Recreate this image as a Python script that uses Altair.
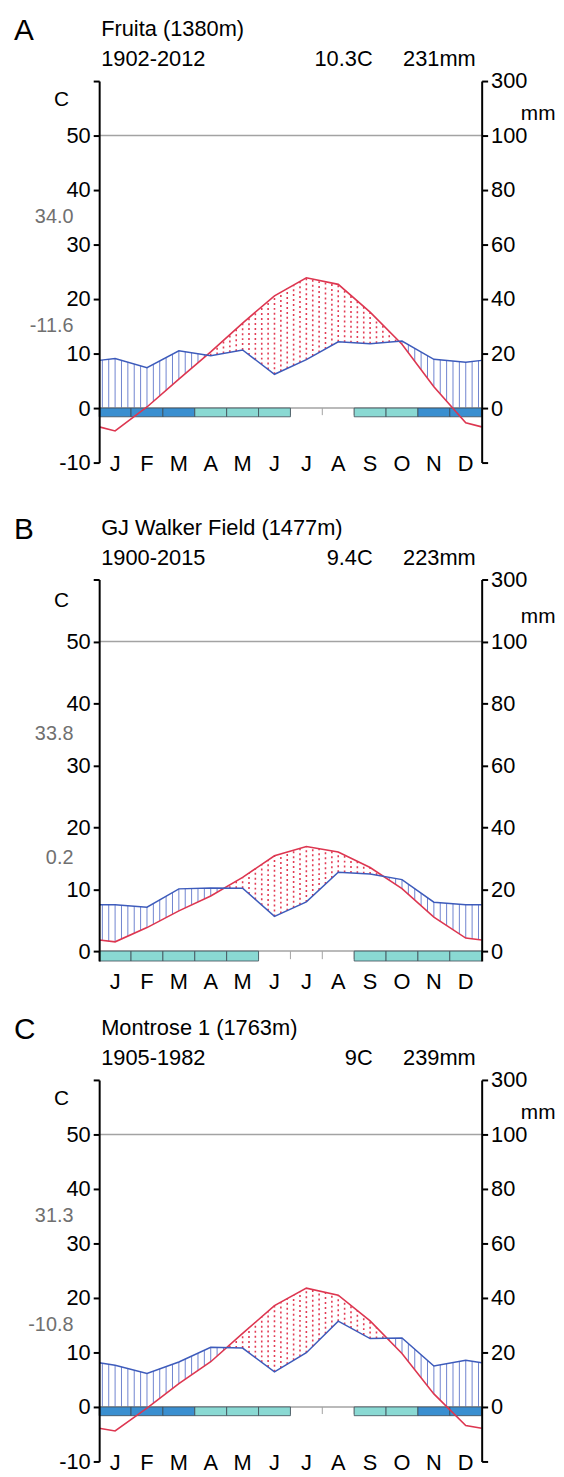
import altair as alt
import numpy as np
import pandas as pd

MONTHS = ["J", "F", "M", "A", "M", "J", "J", "A", "S", "O", "N", "D"]

# Panel A - Fruita
A_LETTER = "A"
A_STATION = "Fruita (1380m)"
A_YEARS = "1902-2012"
A_TMEAN = "10.3C"
A_PTOT = "231mm"
A_TMAX = "34.0"
A_TMIN = "-11.6"
A_TEMP = [-4.2, 0.2, 5.3, 10.3, 15.6, 20.6, 23.9, 22.7, 17.6, 11.7, 3.9, -2.7]
A_PREC = [18.2, 14.8, 21.0, 19.2, 21.3, 12.4, 17.8, 24.3, 23.6, 24.6, 17.9, 16.8]
A_FROST = ["prob", "prob", "prob", "poss", "poss", "poss", "none", "none", "poss", "poss", "prob", "prob"]

# Panel B - GJ Walker Field
B_LETTER = "B"
B_STATION = "GJ Walker Field (1477m)"
B_YEARS = "1900-2015"
B_TMEAN = "9.4C"
B_PTOT = "223mm"
B_TMAX = "33.8"
B_TMIN = "0.2"
B_TEMP = [1.5, 3.8, 6.5, 8.9, 11.9, 15.4, 16.9, 16.0, 13.5, 10.1, 5.5, 2.1]
B_PREC = [15.0, 14.2, 20.1, 20.4, 20.3, 11.2, 15.9, 25.5, 24.9, 23.1, 15.8, 15.0]
B_FROST = ["poss", "poss", "poss", "poss", "poss", "none", "none", "none", "poss", "poss", "poss", "poss"]

# Panel C - Montrose 1
C_LETTER = "C"
C_STATION = "Montrose 1 (1763m)"
C_YEARS = "1905-1982"
C_TMEAN = "9C"
C_PTOT = "239mm"
C_TMAX = "31.3"
C_TMIN = "-10.8"
C_TEMP = [-4.4, -0.2, 4.3, 8.3, 13.5, 18.6, 21.8, 20.5, 15.8, 9.8, 2.4, -3.4]
C_PREC = [15.3, 12.3, 16.5, 21.9, 21.6, 12.9, 19.9, 31.5, 25.1, 25.3, 15.0, 17.1]
C_FROST = ["prob", "prob", "prob", "poss", "poss", "poss", "none", "none", "poss", "poss", "prob", "prob"]

FONT = "Liberation Sans"
RED = "#dd3650"
RED_DOT = "#e23c55"
BLUE = "#3d5bbb"
BLUE_HATCH = "#6f84cf"
FROST_PROB = "#3a8fd0"
FROST_POSS = "#8ad9d3"
GRAY_LINE = "#a3a3a3"
GRAY_TXT = "#707070"

W = 386          # plot width
PH = 385         # height of the diagram itself
TOP = 67         # space above the diagram inside each panel
BAR = -1.6       # depth of the frost bar (degC units)


def panel(letter, station, years, tmean, ptot, tmax, tmin, temps, precs, frost,
          ymin, lab_off, panel_h):
    t = np.array(temps, dtype=float)
    p = np.array(precs, dtype=float)
    t_edge = (t[0] + t[-1]) / 2.0
    p_edge = (p[0] + p[-1]) / 2.0
    xs = np.concatenate([[0.0], np.arange(12) + 0.5, [12.0]])
    tl = np.concatenate([[t_edge], t, [t_edge]])
    pl = np.concatenate([[p_edge], p, [p_edge]])
    lines = pd.DataFrame({"x": xs, "t": tl, "p": pl})

    hx = np.arange(60) * 0.2 + 0.1
    ht = np.interp(hx, xs, tl)
    hp = np.interp(hx, xs, pl / 2.0)
    humid = hp > ht
    hum = pd.DataFrame({"x": hx[humid], "lo": np.maximum(ht[humid], 0), "hi": hp[humid]})
    ari = pd.DataFrame({"x": hx[~humid], "lo": hp[~humid], "hi": ht[~humid]})

    bottom = TOP + PH
    xsc = alt.Scale(domain=[0, 12], nice=False, zero=False)
    ysc = alt.Scale(domain=[ymin, 60], range=[bottom, TOP], nice=False, zero=False)
    lo_tick = -10 if ymin <= -10 else 0
    axis_style = dict(title=None, domainColor="black", domainWidth=2,
                      tickColor="black", tickWidth=2, tickSize=6, labelFontSize=22,
                      labelPadding=3, labelColor="black", labelFont=FONT, grid=False, zindex=1)
    laxis = alt.Axis(values=list(range(lo_tick, 61, 10)),
                     labelExpr="datum.value >= 60 ? '' : '' + datum.value",
                     orient="left", **axis_style)
    rvals = ([-20] if ymin <= -10 else []) + [0, 20, 40, 60, 80, 100, 120]
    raxis = alt.Axis(values=rvals,
                     labelExpr="datum.value >= 120 ? '300' : (datum.value < 0 ? '' : '' + datum.value)",
                     orient="right", **axis_style)

    def X(f):
        return alt.X(f, type="quantitative", scale=xsc, axis=None)

    def Y(f):
        return alt.Y(f, type="quantitative", scale=ysc, axis=laxis)

    hum_l = alt.Chart(hum).mark_rule(color=BLUE_HATCH, strokeWidth=1).encode(
        x=X("x"), y=Y("lo"), y2=alt.Y2("hi"))
    ari_l = alt.Chart(ari).mark_rule(color=RED_DOT, strokeWidth=1.6, strokeDash=[2, 3]).encode(
        x=X("x"), y=Y("lo"), y2=alt.Y2("hi"))

    hlines = pd.DataFrame({"x": [0, 0], "x2": [12, 12], "y": [50, 0]})
    hl = alt.Chart(hlines).mark_rule(color=GRAY_LINE, strokeWidth=1.5).encode(
        x=X("x"), x2=alt.X2("x2"), y=Y("y"))

    bnd = pd.DataFrame({"x": list(range(1, 12)), "y": [0] * 11, "y2": [-1.3] * 11})
    bl = alt.Chart(bnd).mark_rule(color=GRAY_LINE, strokeWidth=1).encode(
        x=X("x"), y=Y("y"), y2=alt.Y2("y2"))

    fr = pd.DataFrame({"x": np.arange(12), "x2": np.arange(12) + 1,
                       "y": [0.0] * 12, "y2": [BAR] * 12, "kind": frost})
    fr = fr[fr["kind"] != "none"]
    frl = alt.Chart(fr).mark_rect(stroke="#3e4b55", strokeWidth=0.8).encode(
        x=X("x"), x2=alt.X2("x2"), y=Y("y"), y2=alt.Y2("y2"),
        color=alt.Color("kind:N", scale=alt.Scale(domain=["prob", "poss"],
                                                   range=[FROST_PROB, FROST_POSS]), legend=None))

    tline = alt.Chart(lines).mark_line(color=RED, strokeWidth=1.6).encode(x=X("x"), y=Y("t"))

    glab = pd.DataFrame({"y": [35, 15], "txt": [tmax, tmin]})
    gl = alt.Chart(glab).mark_text(align="right", baseline="middle", fontSize=20,
                                   color=GRAY_TXT, font=FONT).encode(
        x=alt.value(-26), y=Y("y"), text="txt:N")

    clab = pd.DataFrame({"y": [56.5, 54.0], "txt": ["C", "mm"], "px": [-38, 443]})
    cl = alt.Chart(clab).mark_text(align="center", baseline="middle", fontSize=21,
                                   color="black", font=FONT).encode(
        x=alt.X("px:Q", scale=None), y=Y("y"), text="txt:N")

    mdf = pd.DataFrame({"x": np.arange(12) + 0.5, "m": MONTHS})
    ml = alt.Chart(mdf).mark_text(baseline="middle", fontSize=22, color="black", font=FONT).encode(
        x=X("x"), y=alt.value(bottom + lab_off), text="m:N")

    info = pd.DataFrame({"letter": [letter], "station": [station], "years": [years],
                         "tmean": [tmean], "ptot": [ptot]})
    base = alt.Chart(info)
    let_l = base.mark_text(align="left", baseline="alphabetic", fontSize=30, font=FONT,
                           color="black").encode(x=alt.value(-86), y=alt.value(TOP - 41), text="letter:N")
    st_l = base.mark_text(align="left", baseline="alphabetic", fontSize=22, font=FONT,
                          color="black").encode(x=alt.value(2), y=alt.value(TOP - 45), text="station:N")
    yr_l = base.mark_text(align="left", baseline="alphabetic", fontSize=22, font=FONT,
                          color="black").encode(x=alt.value(2), y=alt.value(TOP - 15), text="years:N")
    tm_l = base.mark_text(align="right", baseline="alphabetic", fontSize=22, font=FONT,
                          color="black").encode(x=alt.value(276), y=alt.value(TOP - 15), text="tmean:N")
    pt_l = base.mark_text(align="right", baseline="alphabetic", fontSize=22, font=FONT,
                          color="black").encode(x=alt.value(380), y=alt.value(TOP - 15), text="ptot:N")

    # invisible anchor that fixes the left edge of every panel
    anchor = base.mark_rule(strokeOpacity=0, stroke="white", strokeWidth=1).encode(
        x=alt.value(-92), x2=alt.value(-91), y=alt.value(TOP + 100))

    temp_layer = alt.layer(hum_l, ari_l, hl, bl, frl, tline, gl, cl, ml,
                           let_l, st_l, yr_l, tm_l, pt_l, anchor)

    pline = alt.Chart(lines).mark_line(color=BLUE, strokeWidth=1.5).encode(
        x=X("x"),
        y=alt.Y("p", type="quantitative",
                scale=alt.Scale(domain=[2 * ymin, 120], range=[bottom, TOP], nice=False, zero=False),
                axis=raxis))

    return alt.layer(temp_layer, pline).resolve_scale(y="independent").properties(
        width=W, height=panel_h)


pA = panel(A_LETTER, A_STATION, A_YEARS, A_TMEAN, A_PTOT, A_TMAX, A_TMIN,
           A_TEMP, A_PREC, A_FROST, -10, 2, 503)
pB = panel(B_LETTER, B_STATION, B_YEARS, B_TMEAN, B_PTOT, B_TMAX, B_TMIN,
           B_TEMP, B_PREC, B_FROST, BAR, 21, 505)
pC = panel(C_LETTER, C_STATION, C_YEARS, C_TMEAN, C_PTOT, C_TMAX, C_TMIN,
           C_TEMP, C_PREC, C_FROST, -10, 2, TOP + PH)

chart = alt.vconcat(pA, pB, pC, spacing=0, bounds="flush").properties(padding=0).configure(
    font=FONT).configure_view(stroke="transparent", strokeWidth=0)

chart.save("out.html", embed_options={"renderer": "svg", "actions": False})
